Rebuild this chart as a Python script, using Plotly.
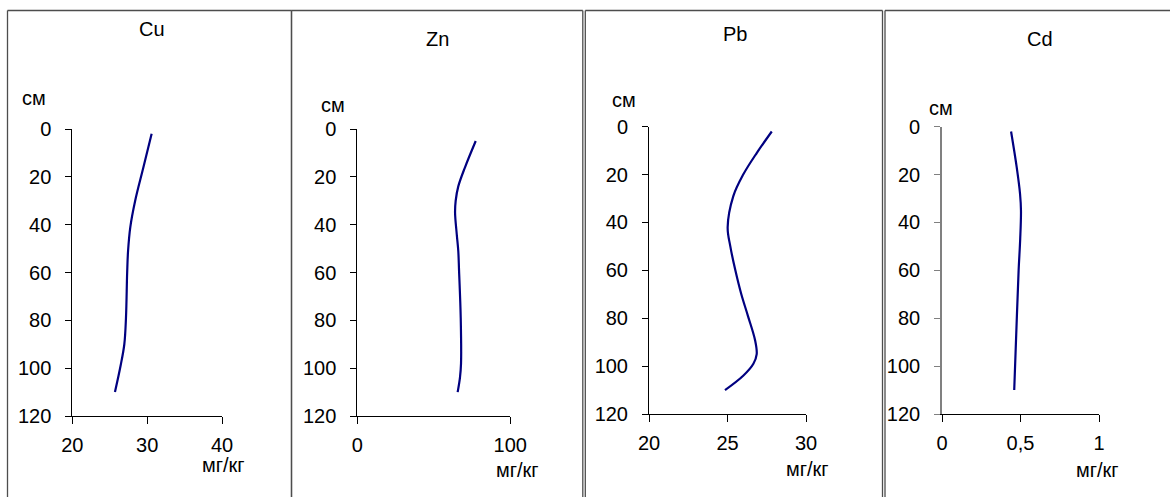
import plotly.graph_objects as go

# ---- data: concentration profiles by depth ----
elements = ["Cu", "Zn", "Pb", "Cd"]

depth_cu = [2, 16, 30, 41, 51, 60, 79, 90, 99, 110]
cu = [30.6, 29.5, 28.4, 27.75, 27.45, 27.33, 27.17, 26.95, 26.45, 25.7]

depth_zn = [5, 16, 24, 30, 35, 44, 51, 59, 79, 98, 104, 110]
zn = [77.4, 70.4, 66.0, 64.3, 63.9, 65.0, 66.0, 66.5, 67.6, 67.8, 67.1, 65.6]

depth_pb = [2, 11, 20, 29, 42, 50, 60, 70, 79, 89, 95, 99, 104, 110]
pb = [27.82, 26.86, 26.0, 25.37, 25.01, 25.18, 25.5, 25.88, 26.3,
      26.75, 26.86, 26.65, 26.0, 24.84]

depth_cd = [2, 17, 28, 35, 47, 60, 79, 110]
cd = [0.44, 0.476, 0.497, 0.503, 0.498, 0.488, 0.477, 0.46]

x_tickvals = [[20, 30, 40], [0, 100], [20, 25, 30], [0, 0.5, 1]]
x_ticktext = [["20", "30", "40"], ["0", "100"], ["20", "25", "30"], ["0", "0,5", "1"]]
x_ranges = [[20, 40], [0, 100], [20, 30], [0, 1]]
y_tickvals = [0, 20, 40, 60, 80, 100, 120]

# ---- layout geometry (pixels) ----
W, H = 1170, 497
FONT = "Liberation Sans, Arial, sans-serif"
NAVY = "#000080"
FRAME = "#4d4d4d"

# plot areas: left, right, top, bottom
areas = [
    (72.3, 222.0, 129.0, 416.0),
    (357.3, 510.3, 129.0, 416.0),
    (649.0, 806.0, 126.7, 414.0),
    (942.0, 1099.0, 126.7, 414.0),
]
# panel frames: left, right (None = runs off the page)
frames = [(7.5, 291.5), (291.5, 582.8), (585.3, 882.5), (885.0, None)]
frame_top = 10.5

title_pos = [(152, 29), (437.5, 39), (735, 34), (1040, 39)]
cm_pos = [(34, 97.5), (332.5, 105), (623.5, 100), (941, 107.5)]
unit_pos = [(223, 465), (517, 470), (807, 469), (1097, 470)]

series = [(cu, depth_cu), (zn, depth_zn), (pb, depth_pb), (cd, depth_cd)]


def px_x(x):
    return x / W


def px_y(y):
    return 1 - y / H


fig = go.Figure()

for i, (vals, depths) in enumerate(series):
    n = "" if i == 0 else str(i + 1)
    fig.add_trace(go.Scatter(
        x=vals, y=depths, mode="lines",
        line=dict(color=NAVY, width=2.2, shape="spline", smoothing=1.0),
        xaxis="x" + n, yaxis="y" + n, showlegend=False, hoverinfo="skip",
    ))

    l, r, t, b = areas[i]
    fig.update_layout(**{
        "xaxis" + n: dict(
            domain=[px_x(l), px_x(r)], anchor="y" + n, automargin=False,
            range=x_ranges[i], tickvals=x_tickvals[i], ticktext=x_ticktext[i],
            showgrid=False, zeroline=False, showline=True,
            linecolor="black", linewidth=1,
            ticks="outside", ticklen=7, tickwidth=1, tickcolor="black",
            tickfont=dict(family=FONT, size=20, color="black"),
            ticklabelstandoff=4, fixedrange=True,
        ),
        "yaxis" + n: dict(
            domain=[px_y(b), px_y(t)], anchor="x" + n, automargin=False,
            range=[120, 0], tickvals=y_tickvals,
            showgrid=False, zeroline=False, showline=True,
            linecolor="#808080" if i == 3 else "black",
            linewidth=1.6 if i == 3 else 1,
            ticks="outside", ticklen=6, tickwidth=1,
            tickcolor="#808080" if i == 3 else "black",
            tickfont=dict(family=FONT, size=20, color="black"),
            ticklabelstandoff=10, fixedrange=True,
        ),
    })

# panel frames: top edge plus the two sides, open at the bottom
shapes = []
for (l, r) in frames:
    right = 1.0 if r is None else px_x(r)
    edges = [(px_x(l), px_y(frame_top), right, px_y(frame_top)),
             (px_x(l), px_y(frame_top), px_x(l), 0.0)]
    if r is not None:
        edges.append((right, px_y(frame_top), right, 0.0))
    for x0, y0, x1, y1 in edges:
        shapes.append(dict(
            type="line", xref="paper", yref="paper",
            x0=x0, y0=y0, x1=x1, y1=y1,
            line=dict(color=FRAME, width=1.3), layer="below",
        ))

annotations = []
for i, el in enumerate(elements):
    for text, (x, y), size in (
        (el, title_pos[i], 20),
        ("см", cm_pos[i], 20),
        ("мг/кг", unit_pos[i], 20),
    ):
        annotations.append(dict(
            text=text, x=px_x(x), y=px_y(y), xref="paper", yref="paper",
            xanchor="center", yanchor="middle", showarrow=False,
            font=dict(family=FONT, size=size, color="black"),
        ))

fig.update_layout(
    template="none",
    width=W, height=H,
    margin=dict(l=0, r=0, t=0, b=0, pad=0, autoexpand=False),
    paper_bgcolor="white", plot_bgcolor="white",
    shapes=shapes, annotations=annotations,
    showlegend=False,
)

fig.write_html("out.html", config={"displayModeBar": False})
